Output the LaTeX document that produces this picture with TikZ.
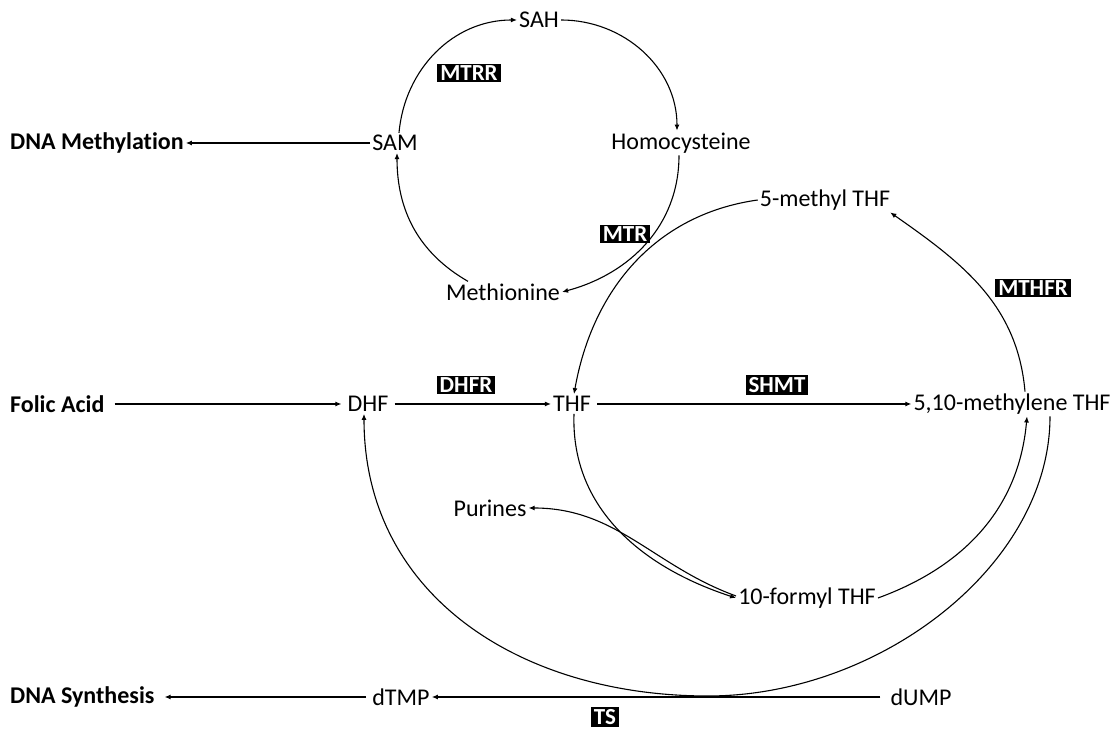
\documentclass[tikz,border=0pt]{standalone}
\usepackage{fontspec}
\setmainfont{Carlito}[Ligatures={NoCommon}]
\usetikzlibrary{arrows.meta, positioning, calc}

\begin{document}
\begin{tikzpicture}[
    x=1pt, y=1pt,
    met/.style={font=\fontsize{24}{28}\selectfont, inner sep=2pt},
    endp/.style={font=\fontsize{24}{28}\selectfont\bfseries, inner sep=2pt, anchor=west},
    enz/.style={fill=black, text=white, font=\fontsize{23}{24}\selectfont\bfseries, inner xsep=3pt, inner ysep=2pt},
    arr/.style={-{Latex[length=6pt, width=5pt]}, line width=1.1pt}
]
\useasboundingbox (0,0) rectangle (1114,730);
% methionine cycle
\node[met] (SAH) at (539,710) {SAH};
\node[met] (Hcy) at (681,587) {Homocysteine};
\node[met] (SAM) at (395,587) {SAM};
\node[met] (Met) at (503,438) {Methionine};
% folate cycle
\node[met] (m5)   at (825,530) {5-methyl THF};
\node[met] (DHF)  at (368,326) {DHF};
\node[met] (THF)  at (572,326) {THF};
\node[met] (m510) at (1012,326) {5,10-methylene THF};
\node[met] (Pur)  at (490,222) {Purines};
\node[met] (f10)  at (807,132) {10-formyl THF};
\node[met] (dTMP) at (401,33) {dTMP};
\node[met] (dUMP) at (921,33) {dUMP};
% end points
\node[endp] (DNAm)  at (8,587) {DNA Methylation};
\node[endp] (Folic) at (8,326) {Folic Acid};
\node[endp] (DNAs)  at (8,33)  {DNA Synthesis};
% enzymes
\foreach \n/\x/\y in {MTRR/469/657, MTR/625/496, MTHFR/1033/442, SHMT/777/345, DHFR/466/345, TS/605/13}
  \node[enz] (\n) at (\x,\y) {\n};

% straight steps
\draw[arr] (SAM.west) -- (DNAm.east);
\draw[arr, shorten <=8pt, shorten >=4pt] (Folic.east) -- (DHF.west);
\draw[arr, shorten <=4pt] (DHF.east) -- (THF.west);
\draw[arr, shorten <=4pt] (THF.east) -- (m510.west);
\draw[arr, shorten <=8pt] (dUMP.west) -- (dTMP.east);
\draw[arr, shorten <=4pt, shorten >=8pt] (dTMP.west) -- (DNAs.east);

% methionine cycle arcs
\draw[arr] ([xshift=4pt]SAM.north) to[out=85, in=180] (SAH.west);
\draw[arr] (SAH.east) to[out=0, in=90] ([xshift=-4pt]Hcy.north);
\draw[arr] ([xshift=-2pt]Hcy.south) to[out=-90, in=15] (Met.east);
\draw[arr] ([xshift=-35pt]Met.north) to[out=150, in=-90] ([xshift=2pt]SAM.south);

% folate cycle arcs
\draw[arr] (m5.west) to[out=188, in=80] ([xshift=2pt]THF.north);
\draw[arr] ([xshift=13pt]m510.north) to[out=95, in=-35] ([xshift=-2pt]m5.south east);
\draw[arr] ([xshift=2pt]THF.south) to[out=-92, in=162] (f10.west);
\draw[arr] (f10.east) to[out=20, in=-95] ([xshift=15pt]m510.south);
\draw[arr] ([yshift=2pt]f10.west) to[out=160, in=0] (Pur.east);

% thymidylate loop back to DHF
\draw[arr] ([xshift=38pt]m510.south) .. controls (1050,165) and (880,34) .. (708,34)
  .. controls (520,34) and (364,135) .. ([xshift=-4pt]DHF.south);
\end{tikzpicture}
\end{document}
